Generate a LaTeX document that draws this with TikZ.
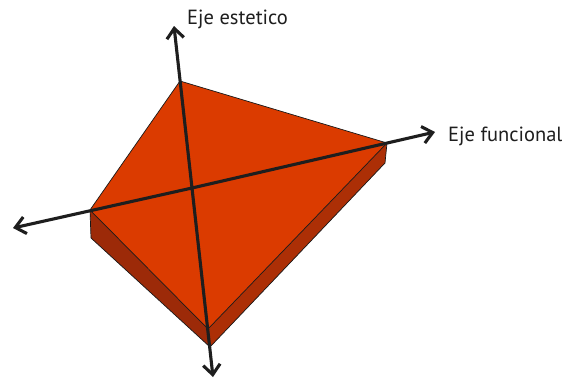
\documentclass[tikz,border=0pt]{standalone}
\usepackage{fontspec}
\setmainfont{PT Sans}
\usetikzlibrary{arrows.meta}
\definecolor{topface}{HTML}{DB3B00}
\definecolor{sideL}{HTML}{9C2A08}
\definecolor{sideR}{HTML}{AC2F06}
\definecolor{inkc}{HTML}{1E1E1E}
\tikzset{
  axis/.style={draw=inkc, line width=3.1pt, line cap=round, -{Straight Barb[length=10pt,width=17pt,line width=3.1pt]}},
  facebox/.style={draw=inkc!80!black, line width=0.7pt, line join=round},
  lbl/.style={inner sep=0pt, font=\fontsize{20.5}{24}\selectfont, text=inkc, anchor=base west}
}
\begin{document}
\begin{tikzpicture}[x=1pt,y=-1pt]
\useasboundingbox (0,0) rectangle (570,381);
% vertices of the top face
\coordinate (T) at (180,81);
\coordinate (R) at (387,143);
\coordinate (L) at (90,210);
\coordinate (B) at (208,329);
% lower corners of the slab
\coordinate (Ld) at (91,238);
\coordinate (Bd) at (210,347);
\coordinate (Rd) at (385,163);
% centre
\coordinate (C) at (192,188);
% arrow tips
\coordinate (up) at (174,26);
\coordinate (down) at (213,377);
\coordinate (right) at (435,132);
\coordinate (left) at (13,228);
% side faces
\fill[sideL] (L) -- (B) -- (Bd) -- (Ld) -- cycle;
\fill[sideR] (B) -- (R) -- (Rd) -- (Bd) -- cycle;
\draw[facebox] (L) -- (Ld) -- (Bd) -- (Rd) -- (R);
\draw[facebox] (B) -- (Bd);
% top face
\filldraw[facebox, fill=topface] (T) -- (R) -- (B) -- (L) -- cycle;
% axes
\draw[axis] (C) -- (up);
\draw[axis] (C) -- (down);
\draw[axis] (C) -- (right);
\draw[axis] (C) -- (left);
% labels
\node[lbl] (estetico) at (187,24) {Eje estetico};
\node[lbl] (funcional) at (448,141.5) {Eje funcional};
\end{tikzpicture}
\end{document}
